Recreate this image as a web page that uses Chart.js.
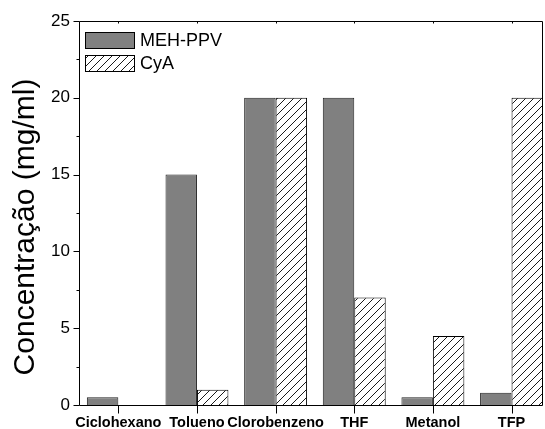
<!DOCTYPE html>
<html>
<head>
<meta charset="utf-8">
<script src="https://cdn.jsdelivr.net/npm/chart.js@4"></script>
<style>
  html, body { margin: 0; padding: 0; background: #fff; }
  #wrap { width: 545px; height: 429px; }
</style>
</head>
<body>
<div id="wrap"><canvas id="myChart" width="545" height="429"></canvas></div>
<script>
// chart data
const categories = ['Ciclohexano', 'Tolueno', 'Clorobenzeno', 'THF', 'Metanol', 'TFP'];
const mehPpv = [0.5, 15, 20, 20, 0.5, 0.8];
const cyA = [null, 1, 20, 7, 4.5, 20];
const seriesNames = ['MEH-PPV', 'CyA'];
const yTicks = [0, 5, 10, 15, 20, 25];
const yTitle = 'Concentração (mg/ml)';

const FONT = "'Liberation Sans', Arial, sans-serif";

function makeHatch() {
    const c = document.createElement('canvas');
    c.width = 8;
    c.height = 8;
    const g = c.getContext('2d');
    g.fillStyle = '#fff';
    g.fillRect(0, 0, 8, 8);
    g.strokeStyle = '#000';
    g.lineWidth = 0.9;
    g.beginPath();
    g.moveTo(0, 8); g.lineTo(8, 0);
    g.moveTo(-2, 2); g.lineTo(2, -2);
    g.moveTo(6, 10); g.lineTo(10, 6);
    g.stroke();
    return g.createPattern(c, 'repeat');
}

const hatch = makeHatch();

// axes frame, minor ticks, y title and legend
const framePlugin = {
    id: 'frame',
    afterDraw(chart) {
        const ctx = chart.ctx;
        const area = chart.chartArea;
        const xs = chart.scales.x;
        const ys = chart.scales.y;
        ctx.save();
        ctx.strokeStyle = '#000';
        ctx.lineWidth = 1;
        const l = Math.round(area.left) + 0.5;
        const r = Math.round(area.right) - 0.5;
        const t = Math.round(area.top) + 0.5;
        const b = Math.round(area.bottom) + 0.5;
        ctx.beginPath();
        ctx.moveTo(l, t); ctx.lineTo(r, t); ctx.lineTo(r, b); ctx.lineTo(l, b); ctx.closePath();
        ctx.stroke();

        ctx.beginPath();
        // y ticks, major and minor
        for (let v = 0; v <= 25; v += 2.5) {
            const y = Math.round(ys.getPixelForValue(v)) + 0.5;
            const len = (v % 5 === 0) ? 6 : 3;
            ctx.moveTo(l - len, y); ctx.lineTo(l, y);
        }
        // x ticks bottom and top
        categories.forEach((c, i) => {
            const x = Math.round(xs.getPixelForValue(i + 1)) + 0.5;
            ctx.moveTo(x, b); ctx.lineTo(x, b + 8);
            ctx.moveTo(x, t); ctx.lineTo(x, t + 2);
        });
        ctx.stroke();

        // y title
        ctx.fillStyle = '#000';
        ctx.font = '30px ' + FONT;
        ctx.textAlign = 'center';
        ctx.textBaseline = 'alphabetic';
        ctx.translate(34, 227);
        ctx.rotate(-Math.PI / 2);
        ctx.fillText(yTitle, 0, 0);
        ctx.restore();

        // legend
        ctx.save();
        const fills = ['#808080', hatch];
        seriesNames.forEach((name, i) => {
            const bx = 85.5, by = 32.5 + i * 23;
            ctx.fillStyle = fills[i];
            ctx.fillRect(bx, by, 49, 16);
            ctx.strokeStyle = '#000';
            ctx.lineWidth = 1;
            ctx.strokeRect(bx, by, 49, 16);
            ctx.fillStyle = '#000';
            ctx.font = '18px ' + FONT;
            ctx.textAlign = 'left';
            ctx.textBaseline = 'middle';
            ctx.fillText(name, 140, by + 8.5);
        });
        ctx.restore();
    }
};

const chartConfig = {
    type: 'bar',
    data: {
        datasets: [{
            label: seriesNames[0],
            data: mehPpv.map((v, i) => ({ x: i + 1, y: v })),
            backgroundColor: '#808080',
            borderColor: '#222',
            borderWidth: 1,
            categoryPercentage: 0.8,
            barPercentage: 1.0
        }, {
            label: seriesNames[1],
            data: cyA.map((v, i) => ({ x: i + 1, y: v })),
            backgroundColor: hatch,
            borderColor: '#000',
            borderWidth: 1,
            categoryPercentage: 0.8,
            barPercentage: 1.0
        }]
    },
    options: {
        responsive: false,
        animation: false,
        layout: { padding: { left: 0, top: 21, right: 2, bottom: 0 } },
        plugins: {
            legend: { display: false },
            tooltip: { enabled: false }
        },
        scales: {
            x: {
                type: 'linear',
                offset: false,
                min: 0.5,
                max: 6.4,
                grid: { display: false, drawTicks: true, tickLength: 8, offset: false },
                border: { display: false },
                afterBuildTicks(scale) {
                    scale.ticks = categories.map((c, i) => ({ value: i + 1 }));
                },
                afterFit(scale) { scale.height = 24; },
                ticks: {
                    autoSkip: false,
                    maxRotation: 0,
                    padding: 1,
                    color: '#000',
                    font: { family: FONT, size: 14.5, weight: 'bold' },
                    callback: (v) => categories[v - 1]
                }
            },
            y: {
                min: 0,
                max: 25,
                grid: { display: false, drawTicks: true, tickLength: 6 },
                border: { display: false },
                afterBuildTicks(scale) {
                    scale.ticks = yTicks.map(v => ({ value: v }));
                },
                afterFit(scale) { scale.width = 79; },
                ticks: {
                    padding: 3,
                    color: '#000',
                    font: { family: FONT, size: 17 }
                }
            }
        }
    },
    plugins: [framePlugin]
};

window.onload = () => {
    const myChart = new Chart(document.getElementById('myChart').getContext('2d'), chartConfig);
};
</script>
</body>
</html>
